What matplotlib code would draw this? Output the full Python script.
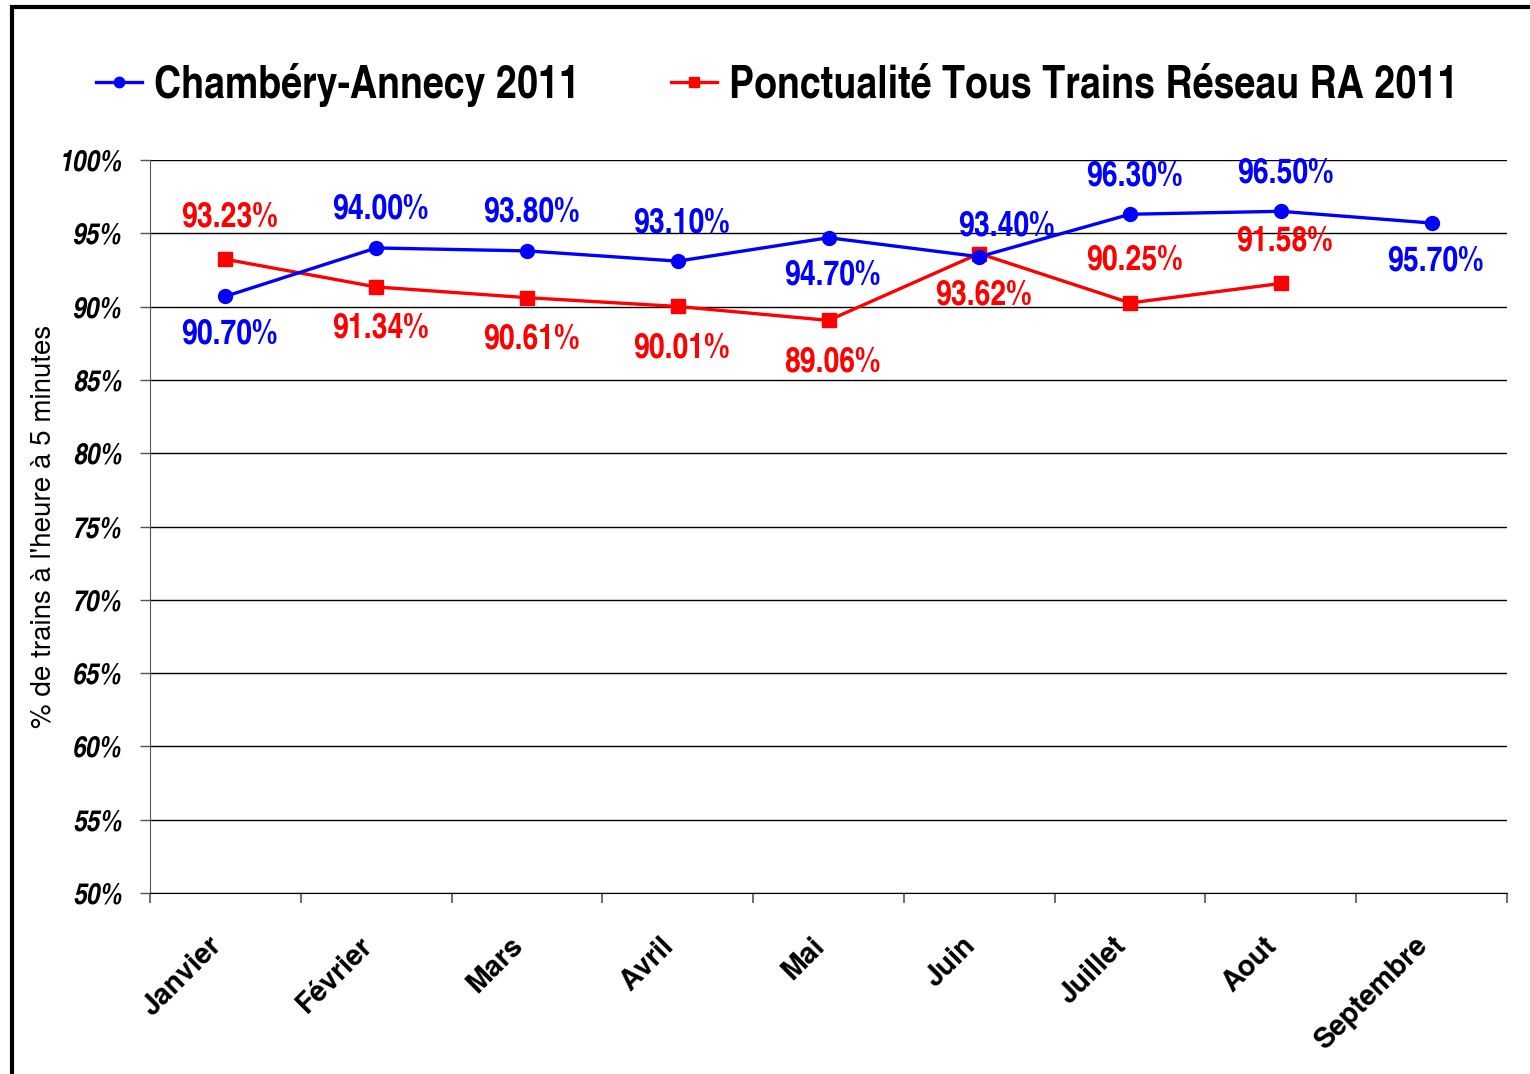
import matplotlib
matplotlib.use("Agg")
import matplotlib.pyplot as plt
from matplotlib.patches import Rectangle
from matplotlib.transforms import ScaledTranslation

months = ['Janvier', 'Février', 'Mars', 'Avril', 'Mai', 'Juin', 'Juillet', 'Aout', 'Septembre']
chambery = [90.70, 94.00, 93.80, 93.10, 94.70, 93.40, 96.30, 96.50, 95.70]
reseau = [93.23, 91.34, 90.61, 90.01, 89.06, 93.62, 90.25, 91.58]
# where each value label sits: +1 above the point, -1 below
chambery_side = [-1, 1, 1, 1, -1, 1, 1, 1, -1]
reseau_side = [1, -1, -1, -1, -1, -1, 1, 1]

narrow = ['TeX Gyre Heros Cn', 'DejaVu Sans']
arial = ['TeX Gyre Heros', 'Liberation Sans', 'DejaVu Sans']

fig = plt.figure(figsize=(15.3, 10.74), dpi=100)
ax = fig.add_axes([150/1530, 1 - 893/1074, 1357/1530, 733/1074])

x = list(range(len(months)))
ax.plot(x, chambery, color='#0000ff', lw=2.4, marker='o', ms=10,
        label='Chambéry-Annecy 2011', zorder=4)
ax.plot(x[:len(reseau)], reseau, color='#ff0000', lw=2.4, marker='s', ms=10,
        label='Ponctualité Tous Trains Réseau RA 2011', zorder=3)

for i, v in enumerate(chambery):
    dx, dy = 4, 38 * chambery_side[i]
    if months[i] == 'Juin':  # label pushed aside in the original
        dx, dy = 27, 30
    ax.annotate(f'{v:.2f}%', (i, v), xytext=(dx, dy),
                textcoords='offset pixels', ha='center', va='center',
                color='#0000ff', fontsize=25, fontweight='bold', family=narrow)
for i, v in enumerate(reseau):
    ax.annotate(f'{v:.2f}%', (i, v), xytext=(4, 42 * reseau_side[i]),
                textcoords='offset pixels', ha='center', va='center',
                color='#ff0000', fontsize=25, fontweight='bold', family=narrow)

ax.set_xlim(-0.5, len(months) - 0.5)
ax.set_ylim(50, 100)
yt = list(range(50, 101, 5))
ax.set_yticks(yt)
ax.set_yticklabels([f'{t}%' for t in yt], fontsize=21.5, fontweight='bold',
                   fontstyle='italic', family=narrow)
ax.yaxis.grid(True, color='black', lw=1)
ax.tick_params(axis='y', length=7, width=1, color='#555555', pad=13)

ax.set_xticks(x)
ax.set_xticklabels(months, rotation=45, ha='right', va='center',
                   rotation_mode='anchor', fontsize=20.5, fontweight='bold',
                   family=arial)
ax.tick_params(axis='x', which='major', length=0, pad=35)
shift = ScaledTranslation(-8/100, 0, fig.dpi_scale_trans)
for lab in ax.get_xticklabels():
    lab.set_transform(lab.get_transform() + shift)
ax.set_xticks([i - 0.5 for i in range(len(months) + 1)], minor=True)
ax.tick_params(axis='x', which='minor', length=7, width=1.2, color='#555555')

for s in ['top', 'right']:
    ax.spines[s].set_visible(False)
ax.spines['left'].set_color('#555555')
ax.spines['bottom'].set_color('black')

ax.set_ylabel("% de trains à l'heure à 5 minutes", fontsize=20, family=arial)
ax.yaxis.set_label_coords(-0.069, 0.5)

leg = fig.legend(loc='center', bbox_to_anchor=(0.508, 0.921), ncol=2,
                 frameon=False, prop={'family': narrow, 'weight': 'bold', 'size': 33},
                 handlelength=1.0, handletextpad=0.25, columnspacing=2.0,
                 markerscale=0.75)

# outer frame of the original image
fig.patches.append(Rectangle((12/1530, -0.1), 1.2, 1 - 7/1074 + 0.1,
                             transform=fig.transFigure, fill=False,
                             edgecolor='black', lw=3))

fig.savefig('out.png', dpi=100)
